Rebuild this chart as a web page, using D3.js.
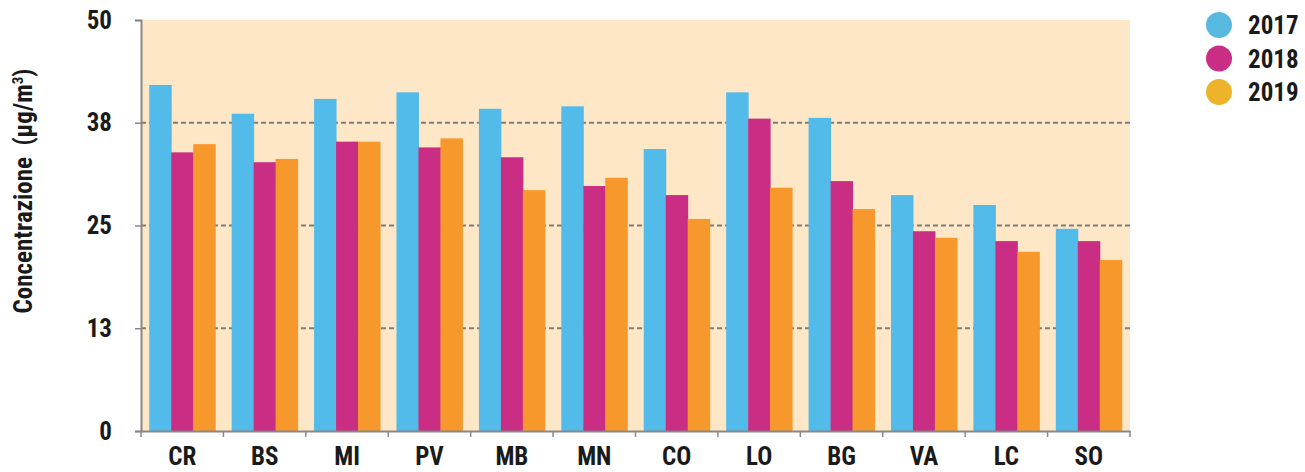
<!DOCTYPE html>
<html><head><meta charset="utf-8">
<script src="https://cdn.jsdelivr.net/npm/d3@7"></script>
<style>
body{margin:0;background:#fff;}
text{font-family:"Liberation Sans Narrow","Roboto Condensed","DejaVu Sans Condensed",sans-serif;font-weight:bold;fill:#1a1a1a;}
</style></head>
<body><svg id="c" width="1305" height="472"></svg>
<script>
const categories = ["CR","BS","MI","PV","MB","MN","CO","LO","BG","VA","LC","SO"];
const years = ["2017","2018","2019"];
const v2017 = [42.1,38.6,40.4,41.2,39.2,39.5,34.3,41.2,38.1,28.7,27.5,24.6];
const v2018 = [33.9,32.7,35.2,34.5,33.3,29.8,28.7,38.0,30.4,24.3,23.1,23.1];
const v2019 = [34.9,33.1,35.2,35.6,29.3,30.8,25.8,29.6,27.0,23.5,21.8,20.8];
const yTicks = [0,12.5,25,37.5,50];
const series = [v2017,v2018,v2019];
const barColors = ["#52bbe9","#c92d84","#f7982c"];
const legendColors = ["#58b8df","#c92d84","#edb32b"];

const svg = d3.select("#c");
const L=141,R=1130,T=20,B=431;
const x = d3.scaleBand().domain(categories).range([L,R]).paddingInner(0.2).paddingOuter(0.1);
const step = x.step();
const xs = d3.scaleBand().domain(years).range([0,x.bandwidth()]);
const y = d3.scaleLinear().domain([0,50]).range([B,T]);

svg.append("rect").attr("x",L).attr("y",T).attr("width",R-L).attr("height",B-T).attr("fill","#fee7c6");

// grid
svg.append("g").selectAll("line").data(yTicks.filter(d=>d>0&&d<50)).join("line")
 .attr("x1",L).attr("x2",R).attr("y1",d=>y(d)).attr("y2",d=>y(d))
 .attr("stroke","#7d7d7d").attr("stroke-width",2).attr("stroke-dasharray","5,3");

// bars
const g = svg.append("g");
categories.forEach((c,i)=>{
  years.forEach((yr,j)=>{
    g.append("rect").attr("x",x(c)+xs(yr)).attr("width",xs.bandwidth()+0.5)
     .attr("y",y(series[j][i])).attr("height",B-y(series[j][i])).attr("fill",barColors[j]);
  });
});

// y axis
const ya = svg.append("g").attr("transform",`translate(${L},0)`)
 .call(d3.axisLeft(y).tickValues(yTicks).tickSize(6).tickPadding(23).tickFormat(d=>Math.round(d)));
ya.select(".domain").attr("stroke","#888").attr("stroke-width",2);
ya.selectAll(".tick line").attr("stroke","#888").attr("stroke-width",1.5);
ya.selectAll("text").style("font-size","25px").attr("fill","#1a1a1a");

// x axis
const xa = svg.append("g").attr("transform",`translate(0,${B})`)
 .call(d3.axisBottom(x).tickSize(0).tickPadding(16));
xa.select(".domain").attr("stroke","#888").attr("stroke-width",2);
xa.selectAll("text").style("font-size","25px").attr("fill","#1a1a1a");
const bounds = d3.range(categories.length+1).map(i=>L+i*step);
xa.selectAll(".bt").data(bounds).join("line").attr("class","bt")
 .attr("x1",d=>d).attr("x2",d=>d).attr("y1",0).attr("y2",6).attr("stroke","#888").attr("stroke-width",1.5);

// y title
svg.append("text").attr("transform","translate(32,191) rotate(-90)").attr("text-anchor","middle")
 .style("font-size","25px").html('Concentrazione\u00a0\u00a0(µg/m<tspan dy="-9" style="font-size:15px">3</tspan><tspan dy="9">)</tspan>');

// legend
const lg = svg.append("g");
years.forEach((yr,j)=>{
  lg.append("circle").attr("cx",1219).attr("cy",25+j*33.5).attr("r",13).attr("fill",legendColors[j]);
  lg.append("text").attr("x",1248).attr("y",25+j*33.5).attr("dy","0.36em").style("font-size","25px").text(yr);
});
</script></body></html>
